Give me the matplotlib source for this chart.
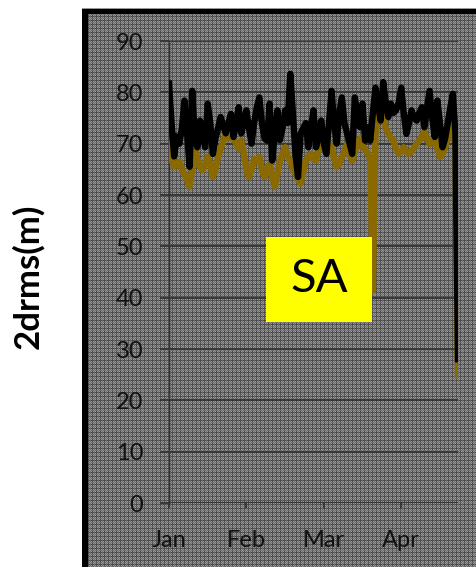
import numpy as np
import matplotlib
matplotlib.use("Agg")
import matplotlib.pyplot as plt
from matplotlib.patches import Rectangle

plt.rcParams['font.family'] = ['Lato', 'DejaVu Sans']

# daily values, Jan 1 .. ~Apr 22
black_vals = [81.7, 74, 67.5, 71.4, 70, 73, 78.4, 72, 65.5, 80.3,
              71, 69.3, 74.5, 72, 69.3, 77.8, 74, 68, 71, 73,
              75.2, 73.5, 72, 74, 75.8, 71.3, 74, 77.1, 72, 74,
              76.5, 73, 70, 74, 77, 79, 74, 71, 70.6, 77.8,
              66.7, 72, 76.5, 70.7, 73, 76.5, 74, 83.6, 76, 68,
              63.5, 72, 73, 74, 69.3, 73, 76.5, 69.3, 72, 74.5,
              70, 68, 74, 80.3, 74, 70, 76, 79, 74, 72,
              70, 68, 79, 76, 73.2, 77.8, 70.6, 73.2, 70.6, 76,
              80.9, 77.8, 74.5, 82, 78, 75.2, 77.8, 76, 76.5, 78,
              80.9, 75.8, 71.9, 74, 76.5, 75, 74.5, 76, 77.1, 73.2,
              77, 80.3, 75, 71.3, 78.4, 74, 69.3, 71, 73.9, 77,
              79.7, 72, 28]
olive_vals = [70, 67, 65.5, 66, 66.5, 65, 64, 63, 61.6, 65,
              69.3, 67, 65.5, 64.8, 66, 67.4, 66, 63.5, 65, 67.4,
              69, 70.5, 72, 71, 72, 71, 70, 69, 70.6, 68,
              65, 63.5, 65, 67, 66.5, 67.4, 65, 63.5, 65, 66,
              63.5, 61.6, 64, 66.7, 68, 69.3, 67.5, 66.7, 65, 64.2,
              63, 62.2, 64.5, 66.7, 67.5, 68, 67, 66.7, 69.3, 69,
              70, 71, 70, 69.3, 67, 65.5, 66, 67.4, 68.5, 70,
              68, 66.7, 68.5, 70, 71, 69.3, 69, 68, 67, 41.4,
              72, 75.3, 75, 75.8, 73, 72, 71, 70.6, 69, 68,
              68.5, 69.3, 68.5, 68, 68.5, 69.3, 70, 70.6, 71.5, 72.4,
              71, 69.9, 70.5, 71, 69, 67.4, 68, 69.3, 71, 73.2,
              72, 70, 25]
days = np.arange(len(black_vals))
month_pos = [0, 30, 60, 90]
month_labels = ['Jan', 'Feb', 'Mar', 'Apr']

W, H = 477, 567
fig = plt.figure(figsize=(W / 100, H / 100), dpi=100)

# background: white margin, black frame, dithered gray fill
yy, xx = np.mgrid[0:H, 0:W]
pat = np.where((xx + yy) % 2 == 0, 0.60, 0.42)
pat = pat * np.where(yy % 4 == 0, 0.7, 1.0) * np.where(xx % 4 == 0, 0.7, 1.0)
img = np.ones((H, W))
img[8:, 82:] = 0.0
img[14:, 88:] = pat[14:, 88:]
img[8, 82:] = 0.6
bg = fig.add_axes([0, 0, 1, 1], zorder=0)
bg.imshow(img, cmap='gray', vmin=0, vmax=1, interpolation='nearest', aspect='auto')
bg.axis('off')

ax = fig.add_axes([169 / W, 1 - 503 / H, 289 / W, 462 / H], zorder=1)
ax.set_facecolor('none')
grid_c = '#333333'

ax.plot(days, olive_vals, color='#8a6a00', lw=4.6, solid_joinstyle='round', zorder=3)
ax.plot(days, black_vals, color='black', lw=4.6, solid_joinstyle='round', zorder=4)

ax.set_xlim(0, 112)
ax.set_ylim(0, 90)
ax.set_yticks(range(0, 91, 10))
ax.yaxis.grid(True, color=grid_c, lw=1.3)
ax.set_xticks(month_pos)
ax.set_xticklabels(month_labels)
for s in ['top', 'right', 'bottom']:
    ax.spines[s].set_visible(False)
ax.spines['left'].set_color(grid_c)
ax.spines['left'].set_linewidth(1)
ax.axhline(0, color=grid_c, lw=2.2, zorder=2)
ax.tick_params(axis='y', length=6.5, width=1.3, color=grid_c, pad=12,
               labelsize=17, labelcolor='#111111')
ax.tick_params(axis='x', length=3.5, width=1.3, color=grid_c, pad=16,
               labelsize=17, labelcolor='#111111')

# SA annotation box
ax.add_patch(Rectangle((0.336, 0.392), 0.367, 0.184, transform=ax.transAxes,
                       facecolor='#ffff00', edgecolor='none', zorder=5))
ax.text(0.336 + 0.367 / 2, 0.392 + 0.184 / 2, 'SA', transform=ax.transAxes,
        ha='center', va='center', fontsize=34, color='black', zorder=6)

fig.text(28 / W, 1 - 276 / H, '2drms(m)', rotation=90, ha='center', va='center',
         fontsize=25, fontweight='bold')

fig.savefig('out.png', dpi=100)
